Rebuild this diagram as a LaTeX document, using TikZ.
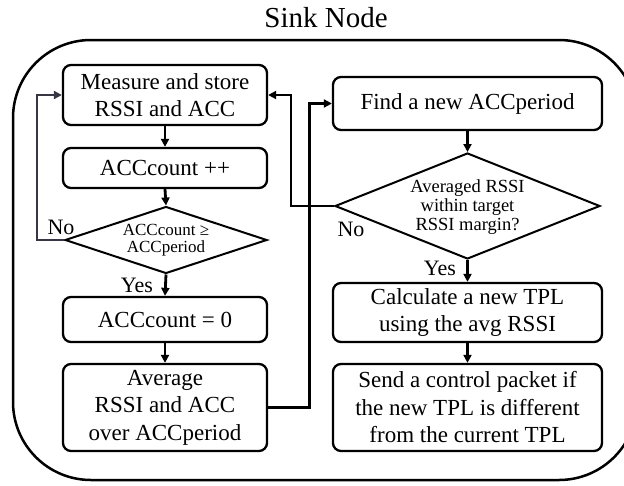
\documentclass[tikz,border=0pt]{standalone}
\usepackage{fontspec}
\setmainfont{Liberation Serif}
\usetikzlibrary{arrows.meta,shapes.geometric}
\definecolor{loopgray}{RGB}{55,55,68}
\begin{document}
\begin{tikzpicture}[x=1pt,y=-1pt,
  stepbox/.style={draw,line width=2.3pt,rounded corners=8pt,align=center,
    font={\fontsize{23}{27.5}\selectfont\lineskiplimit=-30pt},inner sep=0pt},
  leftbox/.style={stepbox,minimum width=204pt},
  rightbox/.style={stepbox,minimum width=269pt},
  decision/.style={draw,diamond,line width=2pt,inner sep=0pt},
  dtext/.style={align=center,inner sep=0pt},
  flow/.style={line width=2.8pt,-{Triangle[length=8pt,width=8pt]}},
  lbl/.style={font=\fontsize{22}{22}\selectfont,inner sep=0pt}]
\useasboundingbox (0,0) rectangle (624,485);

% enclosing frame of the sink node
\begin{scope}
  \clip (0,0) rectangle (624,485);
  \draw[line width=2.5pt,rounded corners=78pt] (13,40) rectangle (637,480);
\end{scope}
\node[font=\fontsize{29}{29}\selectfont,inner sep=0pt] (title) at (326,18) {Sink Node};

% left column
\node[leftbox,minimum height=60pt] (b1) at (165,95) {Measure and store\\RSSI and ACC};
\node[leftbox,minimum height=40pt] (b2) at (165,168) {ACCcount ++};
\node[decision,minimum width=202pt,minimum height=67pt] (d1) at (166,240) {};
\node[dtext,font={\fontsize{17}{17}\selectfont\lineskiplimit=-30pt}] (d1t) at (166,240) {ACCcount ≥\\ACCperiod};
\node[leftbox,minimum height=45pt] (b3) at (165,319.5) {ACCcount = 0};
\node[leftbox,minimum height=87pt] (b4) at (165,407.5) {Average\\RSSI and ACC\\over ACCperiod};

% right column
\node[rightbox,minimum height=53pt] (b5) at (467.5,103.5) {Find a new ACCperiod};
\node[decision,minimum width=265pt,minimum height=106pt] (d2) at (467.5,206) {};
\node[dtext,font={\fontsize{18.5}{19}\selectfont}] (d2t) at (467.5,207) {Averaged RSSI\\within target\\RSSI margin?};
\node[rightbox,minimum height=59pt] (b6) at (467.5,312.5) {Calculate a new TPL\\using the avg RSSI};
\node[rightbox,minimum height=87pt] (b7) at (467.5,407.5) {Send a control packet if\\the new TPL is different\\from the current TPL};

% branch labels
\node[lbl] (no1) at (61,227) {No};
\node[lbl] (yes1) at (137,285) {Yes};
\node[lbl] (no2) at (351,229) {No};
\node[lbl] (yes2) at (440,268) {Yes};

% connectors
\draw[flow] (b1.south) -- (b2.north);
\draw[flow] (b2.south) -- (d1.north);
\draw[flow] (d1.south) -- (b3.north);
\draw[flow] (b3.south) -- (b4.north);
\draw[flow,draw=loopgray] (d1.west) -- ++(-27,0) |- (b1.west);
\draw[flow] (b4.east) -- ++(41,0) |- (b5.west);
\draw[flow] (d2.west) -- ++(-43,0) |- (b1.east);
\draw[flow] (b5.south) -- (d2.north);
\draw[flow] (d2.south) -- (b6.north);
\draw[flow] (b6.south) -- (b7.north);
\end{tikzpicture}
\end{document}
